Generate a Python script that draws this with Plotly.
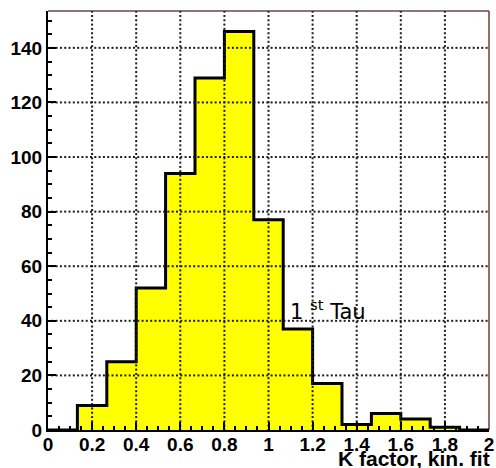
import numpy as np
import plotly.graph_objects as go

# Histogram of the K factor from the kinematic fit (15 bins over [0, 2])
bin_edges = [0.0, 0.1333, 0.2667, 0.4, 0.5333, 0.6667, 0.8, 0.9333,
             1.0667, 1.2, 1.3333, 1.4667, 1.6, 1.7333, 1.8667, 2.0]
counts = [0, 9, 25, 52, 94, 129, 146, 77, 37, 17, 2, 6, 4, 1, 0]

x_tick_vals = [0, 0.2, 0.4, 0.6, 0.8, 1.0, 1.2, 1.4, 1.6, 1.8, 2.0]
x_tick_text = ["0", "0.2", "0.4", "0.6", "0.8", "1", "1.2", "1.4", "1.6", "1.8", "2"]
y_tick_vals = [0, 20, 40, 60, 80, 100, 120, 140]
y_tick_text = ["0", "20", "40", "60", "80", "100", "120", "140"]

x_range = [0, 2]
y_range = [0, 153.5]

FONT = "Liberation Sans, Arial, Helvetica, sans-serif"

# step outline: one point per bin left edge, plus the closing right edge
step_x = list(bin_edges)
step_y = list(counts) + [counts[-1]]

fig = go.Figure()

# yellow fill under the histogram
fig.add_trace(go.Scatter(
    x=step_x, y=step_y, mode="lines", line=dict(shape="hv", width=0),
    fill="tozeroy", fillcolor="#ffff00", hoverinfo="skip", showlegend=False,
))

# black histogram outline
fig.add_trace(go.Scatter(
    x=step_x, y=step_y, mode="lines",
    line=dict(shape="hv", color="black", width=3),
    hoverinfo="skip", showlegend=False,
))

# dotted grid at the major ticks: a row of small dots along each grid line
dot_step_x = 0.0195   # about 4.3 px along x
dot_step_y = 1.58     # about 4.3 px along y
gx, gy = [], []
ys = np.arange(y_range[0], y_range[1], dot_step_y)
for v in x_tick_vals[1:-1]:
    gx += [v] * len(ys)
    gy += list(ys)
xs = np.arange(x_range[0] + dot_step_x, x_range[1], dot_step_x)
for v in y_tick_vals[1:]:
    gx += list(xs)
    gy += [v] * len(xs)
fig.add_trace(go.Scatter(
    x=gx, y=gy, mode="markers",
    marker=dict(symbol="square", size=2, color="#1a1a1a", line=dict(width=0)),
    hoverinfo="skip", showlegend=False,
))

axis_common = dict(
    showgrid=False, zeroline=False, showline=True, linecolor="black",
    linewidth=2, ticks="inside", tickcolor="black", tickwidth=1.5,
    ticklen=8, automargin=False,
    tickfont=dict(family=FONT, size=19, color="black", weight="bold"),
)

fig.update_xaxes(
    range=x_range, tickmode="array", tickvals=x_tick_vals, ticktext=x_tick_text,
    minor=dict(ticks="inside", ticklen=4, dtick=0.05, tickcolor="black", tickwidth=1.5),
    ticklabelstandoff=-4,
    **axis_common,
)
fig.update_yaxes(
    range=y_range, tickmode="array", tickvals=y_tick_vals, ticktext=y_tick_text,
    minor=dict(ticks="inside", ticklen=4, dtick=5, tickcolor="black", tickwidth=1.5),
    **axis_common,
)

# top and right frame lines
fig.add_shape(type="line", xref="paper", yref="paper", x0=0, x1=1, y0=1, y1=1,
              line=dict(color="#6a4848", width=1.5), layer="below")
fig.add_shape(type="line", xref="paper", yref="paper", x0=1, x1=1, y0=0, y1=1,
              line=dict(color="#7a3a3a", width=1.5), layer="below")

# axis title, right-aligned under the axis
fig.add_annotation(
    text="K factor, kin. fit", xref="paper", yref="paper", x=1.0, y=0,
    xanchor="right", yanchor="top", yshift=-15, xshift=3, showarrow=False,
    font=dict(family=FONT, size=21, color="black", weight="bold"),
)

# label inside the plot
fig.add_annotation(
    text="1 <sup>st</sup> Tau", x=1.09, y=40, xref="x", yref="y",
    xanchor="left", yanchor="bottom", yshift=-5, showarrow=False,
    font=dict(family="DejaVu Sans, sans-serif", size=21, color="black"),
)

fig.update_layout(
    width=496, height=468,
    margin=dict(l=48, r=7, t=11, b=38),
    paper_bgcolor="white", plot_bgcolor="white",
)

fig.write_html("out.html")
